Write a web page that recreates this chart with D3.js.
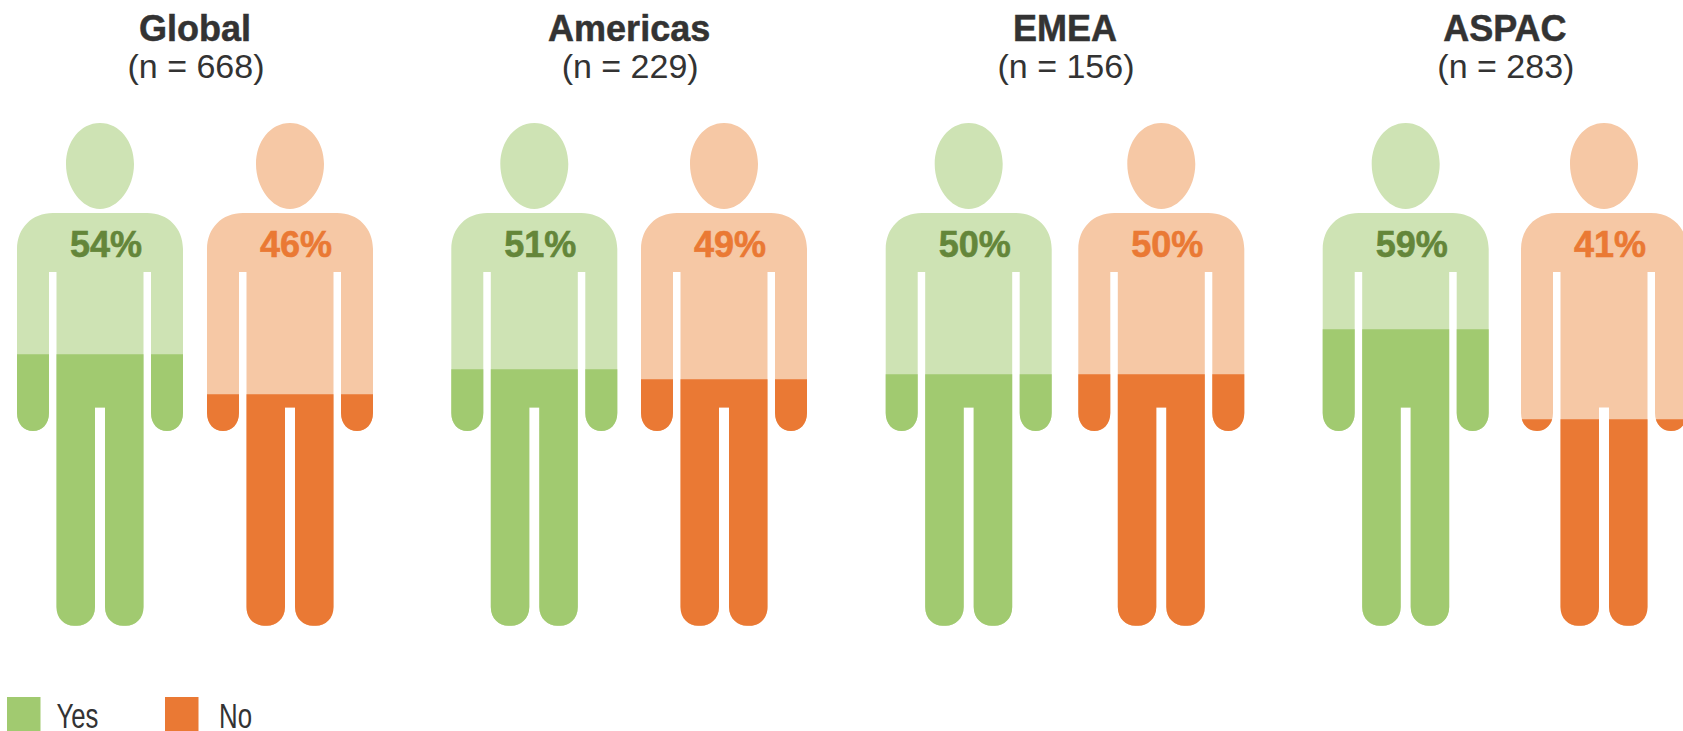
<!DOCTYPE html>
<html>
<head>
<meta charset="utf-8">
<script src="https://d3js.org/d3.v7.min.js"></script>
<style>
  html, body { margin: 0; padding: 0; background: #fff; overflow: hidden; }
  svg { display: block; }
  text { font-family: 'Liberation Sans', Arial, sans-serif; }
</style>
</head>
<body>
<div id="chart"></div>
<script>
const regions = ['Global', 'Americas', 'EMEA', 'ASPAC'];
const sampleSizes = [668, 229, 156, 283];
const yesValues = [54, 51, 50, 59];
const noValues = [46, 49, 50, 41];
const legendLabels = ['Yes', 'No'];

const size = { width: 1683, height: 731 };

const svg = d3
  .select('#chart')
  .append('svg')
  .attr('width', size.width)
  .attr('height', size.height);

// a figure is filled from the feet (0%) up to the top of the head (100%)
const y = d3.scaleLinear().domain([0, 100]).range([624.3, 124.3]);

const yesX = d3
  .scaleOrdinal()
  .domain(regions)
  .range([100, 534.3, 968.7, 1405.7]);
const noX = d3
  .scaleOrdinal()
  .domain(regions)
  .range([290, 724, 1161.3, 1604]);

const colors = {
  Yes: { light: '#cee3b4', dark: '#a1ca70', text: '#64863a' },
  No: { light: '#f6c8a5', dark: '#ea7934', text: '#ea7934' },
};

// outline is centred on x = 0, y is in page pixels
const personPath = [
  // head
  'M0,123 C20,123 34,142 34,164 C34,188 18,209 0,209 C-18,209 -34,188 -34,164 C-34,142 -20,123 0,123 Z',
  // torso, arms and legs
  'M-47,213 L47,213 C68,213 83,228 83,249',
  'L83,413 C83,424 76,431 67,431 C58,431 51,424 51,413 L51,272 L43.5,272',
  'L43.5,607 C43.5,619 35,625.7 26,625.7 L23,625.7 C14,625.7 5,619 5,607 L5,407.5 L-5,407.5',
  'L-5,607 C-5,619 -14,625.7 -23,625.7 L-26,625.7 C-35,625.7 -43.5,619 -43.5,607 L-43.5,272 L-51,272',
  'L-51,413 C-51,424 -58,431 -67,431 C-76,431 -83,424 -83,413 L-83,249 C-83,228 -68,213 -47,213 Z',
].join(' ');

const drawPerson = (region, i, key, value, x) => {
  const c = colors[key];
  const g = svg.append('g').attr('transform', `translate(${x(region)}, 0)`);
  const clipId = `fill-${key}-${i}`;

  g.append('clipPath')
    .attr('id', clipId)
    .append('rect')
    .attr('x', -100)
    .attr('width', 200)
    .attr('y', y(value))
    .attr('height', y(0) - y(value) + 10);

  g.append('path').attr('d', personPath).attr('fill', c.light);

  g.append('path')
    .attr('d', personPath)
    .attr('fill', c.dark)
    .attr('clip-path', `url(#${clipId})`);

  g.append('text')
    .text(`${value}%`)
    .attr('x', 6)
    .attr('y', 257)
    .attr('text-anchor', 'middle')
    .attr('font-size', 36)
    .attr('font-weight', 'bold')
    .attr('fill', c.text)
    .attr('stroke', c.text)
    .attr('stroke-width', 0.6);
};

regions.forEach((region, i) => {
  drawPerson(region, i, 'Yes', yesValues[i], yesX);
  drawPerson(region, i, 'No', noValues[i], noX);

  const mid = (yesX(region) + noX(region)) / 2;

  svg
    .append('text')
    .text(region)
    .attr('x', mid)
    .attr('y', 41)
    .attr('text-anchor', 'middle')
    .attr('font-size', 36)
    .attr('font-weight', 'bold')
    .attr('fill', '#333')
    .attr('stroke', '#333')
    .attr('stroke-width', 0.5);

  svg
    .append('text')
    .text(`(n = ${sampleSizes[i]})`)
    .attr('x', mid + 1)
    .attr('y', 78)
    .attr('text-anchor', 'middle')
    .attr('font-size', 34)
    .attr('fill', '#333');
});

// legend
const legendX = d3.scaleOrdinal().domain(legendLabels).range([7, 165]);
const legendTextGap = d3.scaleOrdinal().domain(legendLabels).range([49.5, 54]);
const legendTextWidth = d3.scaleOrdinal().domain(legendLabels).range([42, 33]);

legendLabels.forEach((label) => {
  svg
    .append('rect')
    .attr('x', legendX(label))
    .attr('y', 697)
    .attr('width', 33.5)
    .attr('height', 34)
    .attr('fill', colors[label].dark);

  svg
    .append('text')
    .text(label)
    .attr('x', legendX(label) + legendTextGap(label))
    .attr('y', 728)
    .attr('font-size', 35)
    .attr('textLength', legendTextWidth(label))
    .attr('lengthAdjust', 'spacingAndGlyphs')
    .attr('fill', '#333');
});
</script>
</body>
</html>
